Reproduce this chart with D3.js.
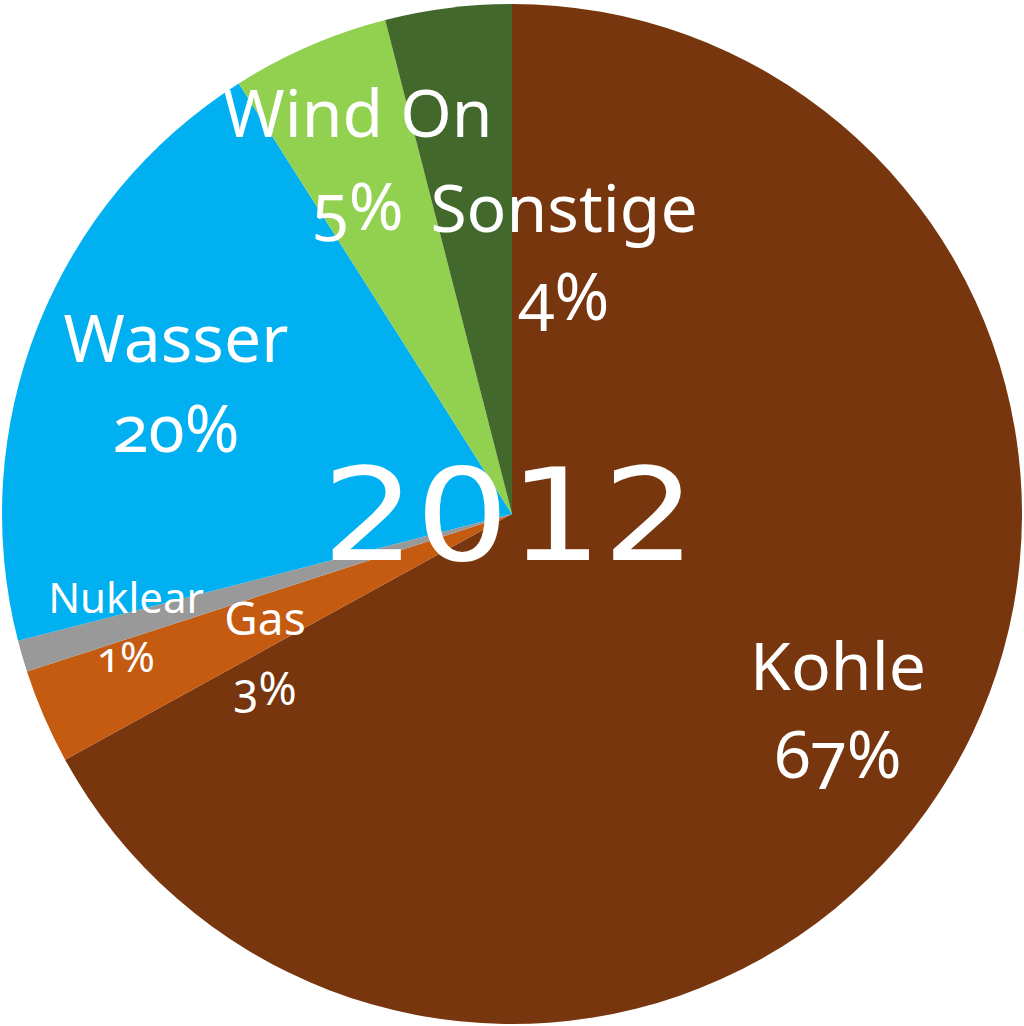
<!DOCTYPE html>
<html><head><meta charset="utf-8">
<script src="https://cdn.jsdelivr.net/npm/d3@7"></script>
<style>
html,body{margin:0;padding:0;background:#fff;}
svg{display:block;}
</style></head>
<body>
<svg id="chart" width="1024" height="1026"></svg>
<script>
const categories = ["Kohle", "Gas", "Nuklear", "Wasser", "Wind On", "Sonstige"];
const values = [67, 3, 1, 20, 5, 4];
const percentLabels = ["67%", "3%", "1%", "20%", "5%", "4%"];
const colors = ["#77360D", "#C55A11", "#999999", "#00B0F0", "#92D050", "#43682B"];
const title = "2012";

// layout (label centres relative to pie centre, font sizes)
const labelLayout = [
  {dx: 326, y1: 176, y2: 264, size: 66},
  {dx: -247, y1: 121, y2: 191, size: 46},
  {dx: -386, y1: 99, y2: 158, size: 42},
  {dx: -336, y1: -152, y2: -62, size: 66},
  {dx: -154, y1: -377, y2: -284, size: 66},
  {dx: 52, y1: -282, y2: -194, size: 66}
];

const W = 1024, H = 1026, cx = 512, cy = 514, R = 510;
const svg = d3.select("#chart");
const g = svg.append("g").attr("transform", `translate(${cx},${cy})`);

const data = categories.map((c, i) => ({name: c, value: values[i], pct: percentLabels[i], color: colors[i], lay: labelLayout[i]}));
const pie = d3.pie().value(d => d.value).sort(null);
const arc = d3.arc().innerRadius(0).outerRadius(R);
const arcs = pie(data);

g.selectAll("path.slice").data(arcs).enter().append("path")
  .attr("class", "slice")
  .attr("d", arc)
  .attr("fill", d => d.data.color)
  .attr("stroke", "none");

const font = "'Noto Sans', 'Open Sans', sans-serif";
const lbl = g.selectAll("g.lbl").data(arcs).enter().append("g").attr("class", "lbl");
lbl.append("text")
  .attr("x", d => d.data.lay.dx).attr("y", d => d.data.lay.y1)
  .attr("text-anchor", "middle")
  .attr("font-family", font).attr("font-size", d => d.data.lay.size)
  .attr("fill", "#fff")
  .text(d => d.data.name);
lbl.append("text")
  .attr("x", d => d.data.lay.dx).attr("y", d => d.data.lay.y2)
  .attr("text-anchor", "middle")
  .attr("font-family", font).attr("font-size", d => d.data.lay.size)
  .style("font-variant-numeric", "oldstyle-nums")
  .attr("fill", "#fff")
  .text(d => d.data.pct);

g.append("text")
  .attr("x", -3).attr("y", 46)
  .attr("text-anchor", "middle")
  .attr("font-family", "'DejaVu Sans', sans-serif")
  .attr("font-size", 128)
  .attr("textLength", 374).attr("lengthAdjust", "spacingAndGlyphs")
  .attr("fill", "#fff")
  .text(title);
</script>
</body></html>
